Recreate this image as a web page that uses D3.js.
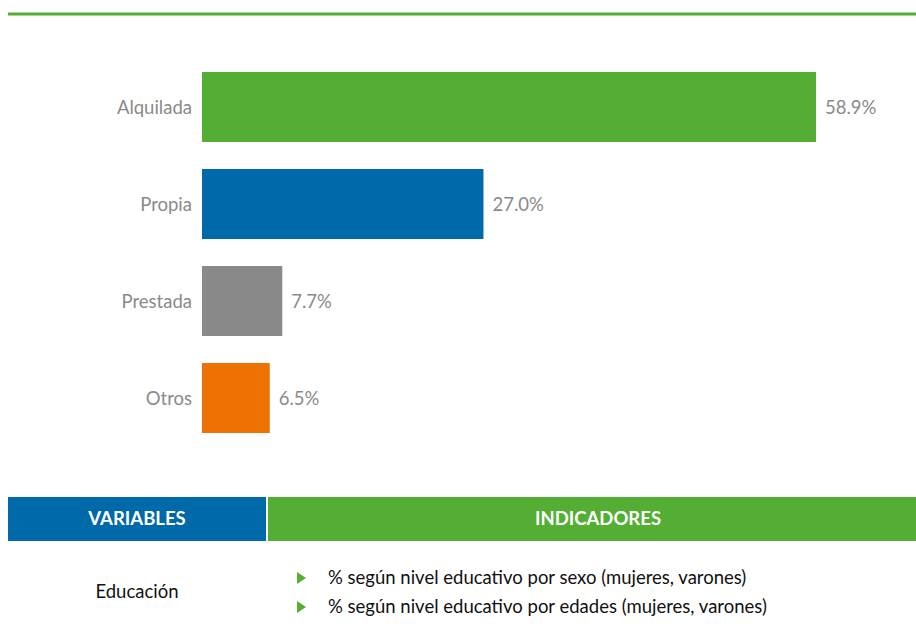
<!DOCTYPE html>
<html><head><meta charset="utf-8">
<script src="https://cdn.jsdelivr.net/npm/d3@7"></script>
<style>body{margin:0;background:#fff}svg{display:block}</style>
</head><body>
<svg id="c" width="916" height="636"></svg>
<script>
const categories = ["Alquilada","Propia","Prestada","Otros"];
const values = [58.9,27.0,7.7,6.5];
const colors = ["#54ae33","#0069aa","#898989","#ee7203"];
const headers = ["VARIABLES","INDICADORES"];
const rowVariable = "Educación";
const indicators = ["% según nivel educativo por sexo (mujeres, varones)","% según nivel educativo por edades (mujeres, varones)"];

const svg = d3.select("#c");
const font = "Lato, 'Open Sans', sans-serif";
const fs = 18.5;

svg.append("line").attr("x1",8).attr("x2",916).attr("y1",14).attr("y2",14)
  .attr("stroke","#54ae33").attr("stroke-width",3);
svg.append("line").attr("x1",8).attr("x2",916).attr("y1",12.5).attr("y2",12.5)
  .attr("stroke","#a9d699").attr("stroke-width",1);

const x = d3.scaleLinear().domain([0,58.9]).range([202,816]);
const y = d3.scaleBand().domain(categories).range([58.5,446.5]).paddingInner(27/97).paddingOuter(13.5/97);

const g = svg.append("g");
g.selectAll("rect").data(values).join("rect")
  .attr("x",x(0)).attr("y",(d,i)=>y(categories[i]))
  .attr("width",d=>x(d)-x(0)).attr("height",y.bandwidth())
  .attr("fill",(d,i)=>colors[i]);
g.selectAll("text.cat").data(categories).join("text").attr("class","cat")
  .attr("x",192).attr("y",d=>y(d)+y.bandwidth()/2+1).attr("dy","0.35em")
  .attr("text-anchor","end").attr("font-family",font).attr("font-size",fs).attr("fill","#8a8a8a").text(d=>d);
g.selectAll("text.val").data(values).join("text").attr("class","val")
  .attr("x",d=>x(d)+9).attr("y",(d,i)=>y(categories[i])+y.bandwidth()/2+1).attr("dy","0.35em")
  .attr("font-family",font).attr("font-size",fs).attr("fill","#8a8a8a").text(d=>d.toFixed(1)+"%");

// table
svg.append("rect").attr("x",8).attr("y",497).attr("width",258).attr("height",44).attr("fill","#0069aa");
svg.append("rect").attr("x",268).attr("y",497).attr("width",648).attr("height",44).attr("fill","#54ae33");
svg.append("text").attr("x",137).attr("y",519).attr("dy","0.35em").attr("text-anchor","middle")
  .attr("font-family",font).attr("font-weight","bold").attr("font-size",fs).attr("fill","#fff").text(headers[0]);
svg.append("text").attr("x",598).attr("y",519).attr("dy","0.35em").attr("text-anchor","middle")
  .attr("font-family",font).attr("font-weight","bold").attr("font-size",fs).attr("fill","#fff").text(headers[1]);
svg.append("text").attr("x",137).attr("y",592).attr("dy","0.35em").attr("text-anchor","middle")
  .attr("font-family",font).attr("font-size",fs).attr("fill","#111").text(rowVariable);
indicators.forEach((t,i)=>{
  const yy = 578 + i*29;
  svg.append("path").attr("d",`M297,${yy-6}L306,${yy}L297,${yy+6}Z`).attr("fill","#54ae33");
  svg.append("text").attr("x",328).attr("y",yy).attr("dy","0.35em")
    .attr("font-family",font).attr("font-size",fs).attr("fill","#111").text(t);
});
</script>
</body></html>
